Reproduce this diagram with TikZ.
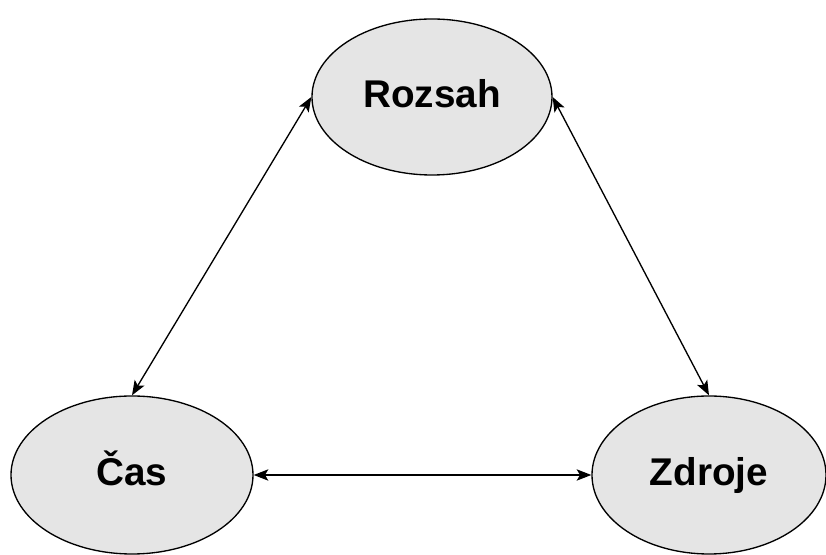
\documentclass[tikz,border=0pt]{standalone}
\usepackage{fontspec}
\setmainfont{Liberation Sans}
\usepackage{tikz}
\usetikzlibrary{shapes.geometric}
\usetikzlibrary{arrows.meta}
\tikzset{topic/.style={shape=ellipse, draw=black, fill=black!10, line width=1pt,
    minimum width=180pt, minimum height=117pt, inner sep=0pt,
    text height=16.5pt, text depth=0pt,
    font=\fontsize{29}{34}\selectfont\bfseries}}
\tikzset{<->-/.style={{Stealth[length=11pt,width=8.5pt,inset=2.5pt]}-{Stealth[length=11pt,width=8.5pt,inset=2.5pt]},
    line width=1pt}}

\begin{document}
\begin{tikzpicture}[x=0.75pt, y=-0.75pt]
        \useasboundingbox (0,0) rectangle (826,555);

            \node[topic] (R) at (432,97) {Rozsah};
            \node[topic, minimum width=181.5pt, minimum height=118.5pt] (C) at (132,475) {Čas};
            \node[topic, minimum width=175.5pt, minimum height=118.5pt] (Z) at (709,475) {Zdroje};

            \draw[<->-] (R.west) -- (C.north);
            \draw[<->-] (R.east) -- (Z.north);
            \draw[<->-] (C.east) -- (Z.west);

\end{tikzpicture}
\end{document}
